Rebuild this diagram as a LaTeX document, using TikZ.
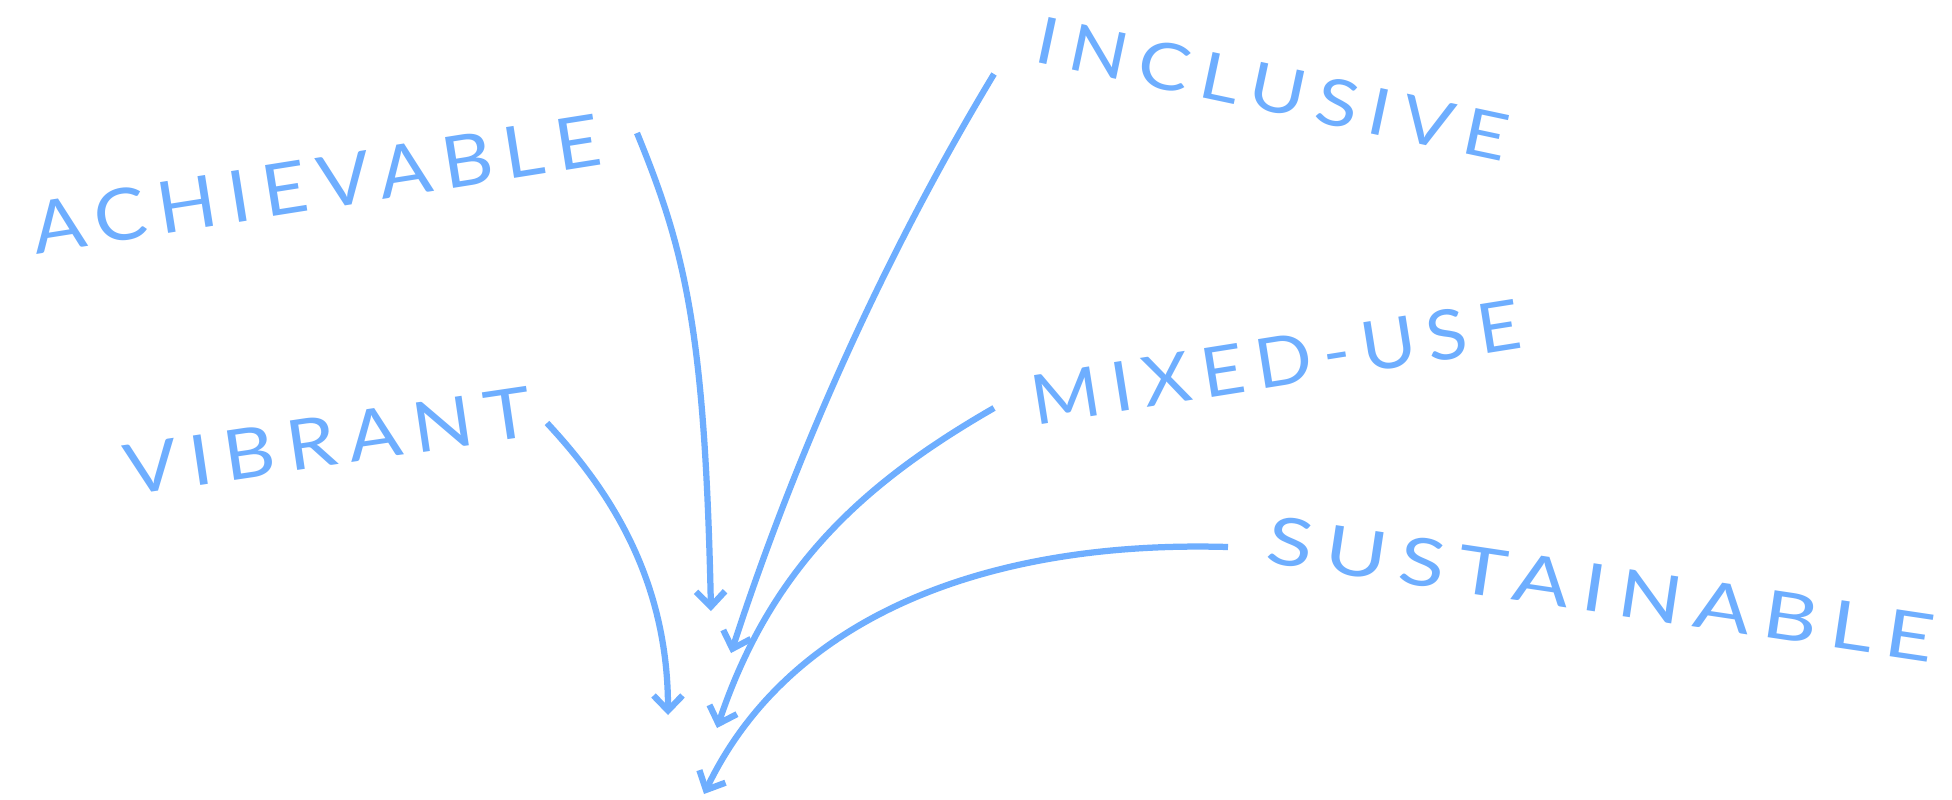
\documentclass[tikz,border=0pt]{standalone}
\usepackage{fontspec}
\usepackage{graphicx}
\usetikzlibrary{arrows.meta}
\newfontfamily\hand[LetterSpace=15]{Lato}
\definecolor{ink}{RGB}{110,174,255}
\begin{document}
\begin{tikzpicture}[x=0.02cm,y=-0.02cm,
  word/.style={text=ink, inner sep=0pt, outer sep=0pt},
  link/.style={draw=ink, line width=0.125cm, -{Straight Barb[length=0.3cm,width=0.58cm]}}]
\fill[white] (0,0) rectangle (1952,799);
\useasboundingbox (0,0) rectangle (1952,799);
% words
\node[word, rotate=9]    (ach) at (316,184)  {\resizebox{11.5cm}{1.04cm}{\hand ACHIEVABLE}};
\node[word, rotate=8.4]  (vib) at (328,441)  {\resizebox{8.2cm}{1.0cm}{\hand VIBRANT}};
\node[word, rotate=-12]  (inc) at (1273,89)  {\resizebox{9.62cm}{0.94cm}{\hand INCLUSIVE}};
\node[word, rotate=9]    (mix) at (1276,362) {\resizebox{9.9cm}{1.0cm}{\hand MIXED-USE}};
\node[word, rotate=-8.5] (sus) at (1601,589) {\resizebox{13.48cm}{0.96cm}{\hand SUSTAINABLE}};
% arrow ends
\coordinate (achS) at (637,133);  \coordinate (achT) at (711,611);
\coordinate (incS) at (994,74);   \coordinate (incT) at (731,653);
\coordinate (vibS) at (547,423);  \coordinate (vibT) at (668,715);
\coordinate (mixS) at (994,408);  \coordinate (mixT) at (717,728);
\coordinate (susS) at (1228,547); \coordinate (susT) at (704,794);
% arrows
\draw[link] (achS) .. controls (685,250) and (705,330) .. (achT);
\draw[link] (incS) .. controls (930,180) and (820,380) .. (incT);
\draw[link] (vibS) .. controls (600,480) and (668,570) .. (vibT);
\draw[link] (mixS) .. controls (860,485) and (770,570) .. (mixT);
\draw[link] (susS) .. controls (990,540) and (790,615) .. (susT);
\end{tikzpicture}
\end{document}
